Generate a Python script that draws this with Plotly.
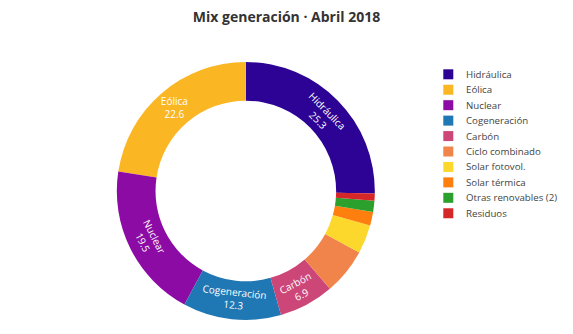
import plotly.graph_objects as go

labels = ["Hidráulica", "Eólica", "Nuclear", "Cogeneración", "Carbón",
          "Ciclo combinado", "Solar fotovol.", "Solar térmica",
          "Otras renovables (2)", "Residuos"]
values = [25.3, 22.6, 19.5, 12.3, 6.9, 5.8, 3.6, 1.7, 1.4, 0.9]
colors = ["#2c0395", "#fbb624", "#8d0ba5", "#1f77b4", "#cc4778",
          "#f0844a", "#fcd72c", "#ff7f0e", "#2ca02c", "#d62728"]
shown = [True, True, True, True, True, False, False, False, False, False]

texts = ["%{label}<br>%{value}" if s else "" for s in shown]

W, H = 573, 334
MT, MB = 62, 14
PH = H - MT - MB

fig = go.Figure(go.Pie(
    labels=labels, values=values, hole=0.70,
    marker=dict(colors=colors, line=dict(width=0)),
    sort=False, direction="counterclockwise", rotation=0,
    texttemplate=texts, textposition="inside",
    insidetextfont=dict(color="white", size=10),
    hoverinfo="label+value",
    domain=dict(x=[0, 0.858], y=[0, 1]),
    showlegend=False,
))

# compact legend built from the label / colour lists
shapes, annots = [], []
for i, (lab, col) in enumerate(zip(labels, colors)):
    cy = 74.3 + 15.44 * i
    yc = (H - MB - cy) / PH
    shapes.append(dict(type="rect", xref="paper", yref="paper",
                       x0=443.3 / W, x1=453.3 / W,
                       y0=yc - 5 / PH, y1=yc + 5 / PH,
                       fillcolor=col, line=dict(width=0)))
    annots.append(dict(xref="paper", yref="paper", x=464 / W, y=yc,
                       xanchor="left", yanchor="middle", text=lab,
                       showarrow=False, font=dict(size=9.7, color="#444")))

fig.update_layout(
    width=W, height=H,
    margin=dict(l=0, r=0, t=MT, b=MB),
    title=dict(text="<b>Mix generación · Abril 2018</b>", x=0.5, xanchor="center",
               y=0.95, yanchor="middle", font=dict(size=14, color="#333")),
    font=dict(family="Open Sans", color="#444"),
    shapes=shapes, annotations=annots,
    paper_bgcolor="white",
)

fig.write_html("out.html")
